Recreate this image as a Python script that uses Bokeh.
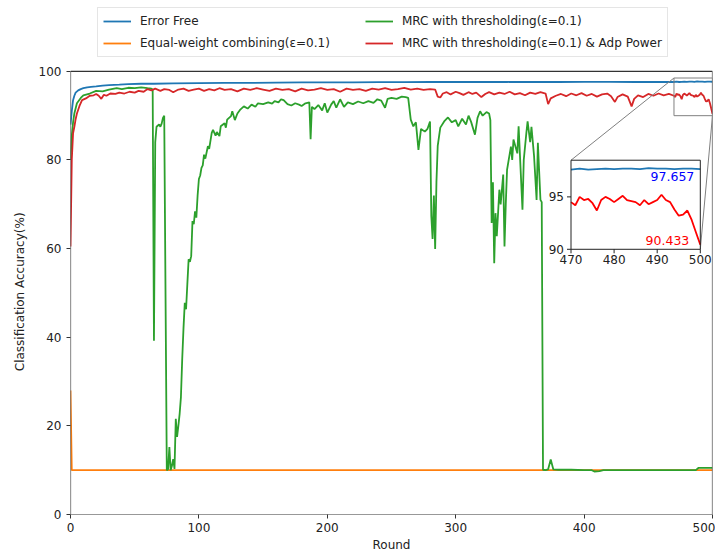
import math
from bokeh.plotting import figure
from bokeh.models import Range1d, Legend, LegendItem, FixedTicker
from bokeh.embed import file_html
from bokeh.resources import INLINE
from bokeh.core.properties import value

# ---------------- data ----------------
BLUE_X = [0, 1, 2, 3, 4, 6, 8, 10, 13, 16, 20, 25, 30, 38, 45, 55, 65, 80, 100, 120, 140, 160,
          180, 200, 220, 240, 260, 280, 300, 320, 340, 360, 380, 400, 420, 440, 460,
          470, 472, 474, 476, 478, 480, 482, 484, 486, 488, 490, 492, 494, 496, 498, 500]
BLUE_Y = [88.0, 91.0, 93.5, 94.5, 95.2, 95.7, 96.0, 96.2, 96.4, 96.5, 96.6, 96.8, 96.9, 97.0, 97.1,
          97.2, 97.2, 97.3, 97.35, 97.4, 97.4, 97.45, 97.5, 97.5, 97.5, 97.55, 97.55, 97.6, 97.6,
          97.6, 97.6, 97.65, 97.6, 97.65, 97.65, 97.6, 97.65,
          97.6, 97.7, 97.6, 97.65, 97.7, 97.65, 97.7, 97.7, 97.65, 97.75, 97.7, 97.7, 97.65,
          97.7, 97.7, 97.657]

ORANGE_X = [0, 1, 500]
ORANGE_Y = [28.0, 10.0, 10.0]

GREEN_X = [0, 1, 2, 3, 5, 8, 10, 15, 20, 25, 30, 36, 40, 45, 50, 55, 60, 63, 64, 65, 66, 67, 69,
           70, 71, 72, 73, 75, 76, 77, 78, 79, 80, 81, 82, 83, 84, 85, 86, 87, 88, 89, 90, 91,
           92, 93, 94, 95, 96, 97, 98, 99, 100, 101, 102, 103, 104, 105, 107, 108, 110, 111,
           113, 114, 116, 117, 120, 121, 122, 125, 126, 128, 130, 132, 135, 138, 141, 144, 146,
           150, 154, 157, 159, 162, 164, 166, 169, 172, 175, 178, 180, 183, 186, 187, 188, 190,
           193, 196, 198, 200, 203, 205, 207, 210, 213, 216, 220, 224, 228, 232, 236, 239, 242,
           245, 247, 250, 254, 258, 261, 263, 265, 267, 269, 271, 273, 276, 278, 280, 281, 282,
           283, 284, 285, 286, 288, 291, 294, 297, 300, 302, 305, 308, 310, 312, 315, 317, 319,
           321, 324, 326, 327, 328, 329, 330, 331, 332, 334, 335, 337, 338, 339, 340, 343, 344,
           345, 348, 349, 352, 353, 355, 356, 358, 359, 361, 363, 364, 366, 367, 368, 370, 372,
           374, 376, 380, 390, 400, 406, 408, 412, 415, 430, 450, 470, 487, 489, 500]
GREEN_Y = [80.0, 85.5, 88.5, 90.5, 92.8, 94.0, 94.6, 95.0, 95.6, 95.5, 95.9, 96.2, 96.0, 96.3,
           96.2, 96.4, 96.2, 96.1, 95.9, 39.2, 84.0, 87.5, 88.0, 87.5, 88.2, 89.5, 90.0, 10.0,
           10.2, 15.2, 10.0, 11.0, 12.5, 10.3, 21.6, 17.5, 20.0, 22.7, 26.5, 35.0, 42.0, 47.8,
           46.3, 52.0, 57.6, 57.0, 58.3, 66.2, 65.5, 68.4, 67.0, 72.0, 75.7, 76.5, 78.2, 78.8,
           81.2, 80.3, 83.1, 82.5, 86.1, 86.8, 85.5, 86.3, 85.4, 87.6, 88.3, 87.3, 89.1, 89.9,
           91.0, 89.0, 90.5, 91.3, 92.1, 91.6, 92.5, 92.0, 92.8, 92.6, 93.0, 92.7, 93.3, 93.0,
           93.7, 93.5, 92.6, 92.3, 92.8, 92.5, 92.2, 92.8, 93.0, 84.7, 92.0, 91.5, 92.4, 91.2,
           92.8, 90.7, 92.5, 93.3, 91.8, 93.7, 92.0, 93.0, 92.6, 93.2, 92.8, 93.3, 92.9, 93.7,
           93.4, 91.8, 93.8, 94.0, 93.8, 94.3, 94.2, 94.0, 89.1, 87.6, 88.5, 82.3, 87.0, 86.4,
           87.0, 88.7, 67.4, 62.2, 72.0, 59.9, 75.0, 83.2, 87.3, 88.7, 89.6, 88.5, 89.0, 87.6,
           89.3, 88.0, 90.0, 88.6, 85.7, 89.5, 91.0, 90.0, 90.8, 90.5, 89.0, 65.8, 75.0, 56.7,
           68.0, 62.8, 73.3, 70.0, 76.7, 60.5, 70.0, 77.8, 83.0, 80.0, 84.6, 81.5, 87.6, 68.8,
           80.0, 86.0, 88.7, 84.0, 87.5, 81.0, 71.0, 83.9, 71.0, 70.5, 10.1, 10.0, 10.2, 12.4,
           10.2, 10.1, 10.1, 10.0, 10.0, 9.7, 9.8, 10.0, 10.0, 10.0, 10.0, 10.0, 10.5, 10.5]

RED_X = [0, 1, 2, 3, 4, 5, 7, 9, 12, 15, 18, 20, 22, 24, 26, 28, 31, 35, 38, 42, 46, 50, 53, 57,
         60, 63, 66, 70, 73, 77, 80, 84, 88, 92, 96, 100, 104, 108, 112, 116, 120, 125, 130,
         135, 140, 145, 150, 155, 160, 165, 170, 175, 180, 185, 190, 195, 200, 205, 210, 215,
         220, 225, 230, 235, 240, 245, 250, 255, 260, 265, 270, 275, 280, 284, 286, 288, 290,
         293, 296, 300, 303, 306, 310, 313, 316, 320, 323, 326, 330, 334, 338, 342, 346, 350,
         354, 358, 362, 366, 370, 372, 374, 378, 382, 386, 390, 394, 398, 402, 406, 410, 414,
         418, 421, 424, 426, 430, 434, 437, 439, 442, 446, 450, 454, 458, 462, 466,
         470, 471, 472, 473, 474, 475, 476, 477, 478, 479, 480, 481, 482, 483, 484, 485, 486,
         487, 488, 489, 490, 491, 492, 493, 494, 495, 496, 497, 498, 499, 500]
RED_Y = [60.5, 80.0, 86.0, 87.5, 89.2, 90.5, 92.2, 93.5, 93.9, 94.5, 94.6, 94.9, 94.5, 93.8,
         94.7, 94.5, 95.0, 94.9, 95.2, 95.0, 95.4, 95.2, 95.6, 95.4, 96.0, 95.7, 96.1, 95.6,
         96.0, 95.8, 95.3, 95.9, 96.1, 95.6, 95.9, 96.1, 95.6, 96.0, 95.7, 96.2, 95.8, 96.0,
         95.5, 96.1, 95.8, 96.2, 95.9, 95.6, 96.1, 95.8, 96.0, 95.5, 96.1, 95.7, 95.9, 96.2,
         95.8, 96.0, 95.4, 96.1, 95.8, 96.0, 95.6, 96.1, 95.9, 96.2, 95.8, 96.0, 96.3, 95.9,
         96.1, 95.8, 96.0, 95.9, 94.3, 94.1, 95.0, 95.3, 94.8, 95.4, 95.1, 94.7, 95.3, 94.9,
         95.2, 94.2, 94.9, 95.3, 94.8, 95.2, 94.9, 95.4, 94.8, 95.1, 94.6, 95.2, 94.9, 95.3,
         95.0, 92.6, 93.9, 94.5, 94.9, 94.4, 95.0, 94.6, 95.1, 94.5, 94.9, 94.3, 94.8, 95.0,
         94.4, 93.1, 94.2, 94.8, 94.3, 92.1, 93.8, 94.6, 94.2, 94.9, 94.5, 95.0, 94.6, 94.9,
         94.5, 94.2, 95.0, 94.7, 94.8, 94.4, 93.7, 94.7, 95.0, 94.8, 94.5, 94.8, 95.1, 94.7,
         94.6, 94.5, 94.2, 94.7, 94.3, 94.5, 94.7, 95.2, 94.7, 94.5, 93.8, 93.2, 93.3, 93.7,
         92.8, 91.6, 90.433]

LABELS = ["Error Free", "Equal-weight combining(\u03b5=0.1)",
          "MRC with thresholding(\u03b5=0.1)", "MRC with thresholding(\u03b5=0.1) & Adp Power"]
X_TICKS = [0, 100, 200, 300, 400, 500]
Y_TICKS = [0, 20, 40, 60, 80, 100]
X_LIM = (0, 500)
Y_LIM = (0, 100)
INSET_X = (470, 500)
INSET_Y = (90, 98.5)
INSET_X_TICKS = [470, 480, 490, 500]
INSET_Y_TICKS = [90, 95]
# where the inset sits, in main-plot data units
INSET_TARGET_X = (389.8, 490.5)
INSET_TARGET_Y = (59.85, 79.95)

C_BLUE, C_ORANGE, C_GREEN, C_RED = "#1f77b4", "#ff7f0e", "#2ca02c", "#d62728"
FONT = "DejaVu Sans"
FS = "12px"
LW = 1.8
AX_C = "#333333"

# frame: 444 px for 0..100, extended upward to the page top to host the legend
FRAME_H = 515
PX_PER_UNIT = 4.44
p = figure(width=715, height=554, output_backend="svg", toolbar_location=None,
           x_range=Range1d(*X_LIM), y_range=Range1d(Y_LIM[0], FRAME_H / PX_PER_UNIT),
           min_border_left=70, min_border_right=3, min_border_top=0, min_border_bottom=39)
p.xgrid.visible = False
p.ygrid.visible = False
p.outline_line_color = None
p.background_fill_color = "white"
p.border_fill_color = "white"

for ax, ticks in ((p.xaxis[0], X_TICKS), (p.yaxis[0], Y_TICKS)):
    ax.ticker = FixedTicker(ticks=ticks)
    ax.axis_line_color = None
    ax.major_tick_line_color = AX_C
    ax.major_tick_in = 0
    ax.major_tick_out = 4
    ax.minor_tick_out = 0
    ax.minor_tick_in = 0
    ax.major_label_text_font = FONT
    ax.major_label_text_font_size = FS
    ax.major_label_text_color = "#222222"
    ax.axis_label_text_font = FONT
    ax.axis_label_text_font_size = FS
    ax.axis_label_text_font_style = "normal"
    ax.axis_label_text_color = "#222222"
p.yaxis.bounds = Y_LIM
p.xaxis.axis_label = "Round"
# trailing no-break spaces centre the visible label on the 0..100 span of the axis
p.yaxis.axis_label = "Classification Accuracy(%)" + "\u00a0" * 18
p.xaxis.major_label_standoff = 4
p.xaxis.axis_label_standoff = 3
p.yaxis.major_label_standoff = 5
p.yaxis.axis_label_standoff = 9

rb = p.line(BLUE_X, BLUE_Y, line_color=C_BLUE, line_width=LW)
ro = p.line(ORANGE_X, ORANGE_Y, line_color=C_ORANGE, line_width=LW)
rg = p.line(GREEN_X, GREEN_Y, line_color=C_GREEN, line_width=LW)
rr = p.line(RED_X, RED_Y, line_color=C_RED, line_width=LW)

# axes box (spines)
p.quad(left=[X_LIM[0]], right=[X_LIM[1]], bottom=[Y_LIM[0]], top=[Y_LIM[1]],
       fill_color=None, line_color=AX_C, line_width=1.2)

# zoom indicator and connectors
p.quad(left=[INSET_X[0]], right=[INSET_X[1]], bottom=[INSET_Y[0]], top=[INSET_Y[1]],
       fill_color=None, line_color="#808080", line_width=1)
p.segment(x0=[INSET_X[0], INSET_X[1]], y0=[INSET_Y[1], INSET_Y[0]],
          x1=[INSET_TARGET_X[0], INSET_TARGET_X[1]], y1=[INSET_TARGET_Y[1], INSET_TARGET_Y[0]],
          line_color="#808080", line_width=1)

# inset
sub = p.subplot(x_source=Range1d(*INSET_X), y_source=Range1d(*INSET_Y),
                x_target=Range1d(*INSET_TARGET_X), y_target=Range1d(*INSET_TARGET_Y))
sub.quad(left=[INSET_X[0]], right=[INSET_X[1]], bottom=[INSET_Y[0]], top=[INSET_Y[1]],
         fill_color="white", line_color=None)
bx = [x for x in BLUE_X if x >= INSET_X[0]]
by = [y for x, y in zip(BLUE_X, BLUE_Y) if x >= INSET_X[0]]
rx = [x for x in RED_X if x >= INSET_X[0]]
ry = [y for x, y in zip(RED_X, RED_Y) if x >= INSET_X[0]]
sub.line(bx, by, line_color=C_BLUE, line_width=LW)
sub.line(rx, ry, line_color="#ff0000", line_width=LW)
sub.quad(left=[INSET_X[0]], right=[INSET_X[1]], bottom=[INSET_Y[0]], top=[INSET_Y[1]],
         fill_color=None, line_color="#222222", line_width=1)
sub.ray(x=INSET_X_TICKS, y=[INSET_Y[0]] * len(INSET_X_TICKS), length=4, length_units="screen",
        angle=-math.pi / 2, line_color="#222222", line_width=1)
sub.ray(x=[INSET_X[0]] * len(INSET_Y_TICKS), y=INSET_Y_TICKS, length=4, length_units="screen",
        angle=math.pi, line_color="#222222", line_width=1)
sub.text(x=INSET_X_TICKS, y=[INSET_Y[0]] * len(INSET_X_TICKS), text=[str(t) for t in INSET_X_TICKS],
         text_align="center", text_baseline="top", y_offset=6,
         text_font=value(FONT), text_font_size=FS, text_color="#222222")
sub.text(x=[INSET_X[0]] * len(INSET_Y_TICKS), y=INSET_Y_TICKS, text=[str(t) for t in INSET_Y_TICKS],
         text_align="right", text_baseline="middle", x_offset=-7,
         text_font=value(FONT), text_font_size=FS, text_color="#222222")
sub.text(x=[BLUE_X[-1]], y=[BLUE_Y[-1]], text=["%.3f" % BLUE_Y[-1]], text_align="right",
         text_baseline="top", x_offset=-6, y_offset=3,
         text_font=value(FONT), text_font_size="12.5px", text_color="#0000ff")
sub.text(x=[RED_X[-1]], y=[RED_Y[-1]], text=["%.3f" % RED_Y[-1]], text_align="right",
         text_baseline="bottom", x_offset=-11, y_offset=0,
         text_font=value(FONT), text_font_size="12.5px", text_color="#ff0000")

legend = Legend(items=[LegendItem(label=LABELS[0], renderers=[rb]),
                       LegendItem(label=LABELS[1], renderers=[ro]),
                       LegendItem(label=LABELS[2], renderers=[rg]),
                       LegendItem(label=LABELS[3], renderers=[rr])],
                location=(27, 457), ncols=2,
                label_text_font=FONT, label_text_font_size=FS, label_text_color="#222222",
                glyph_width=28, glyph_height=16, label_height=16, label_width=219,
                label_standoff=9, spacing=6, padding=5, margin=0,
                border_line_color="#cccccc", border_line_width=1,
                background_fill_color="white", background_fill_alpha=1)
p.add_layout(legend)

open("out.html", "w").write(file_html(p, INLINE))
